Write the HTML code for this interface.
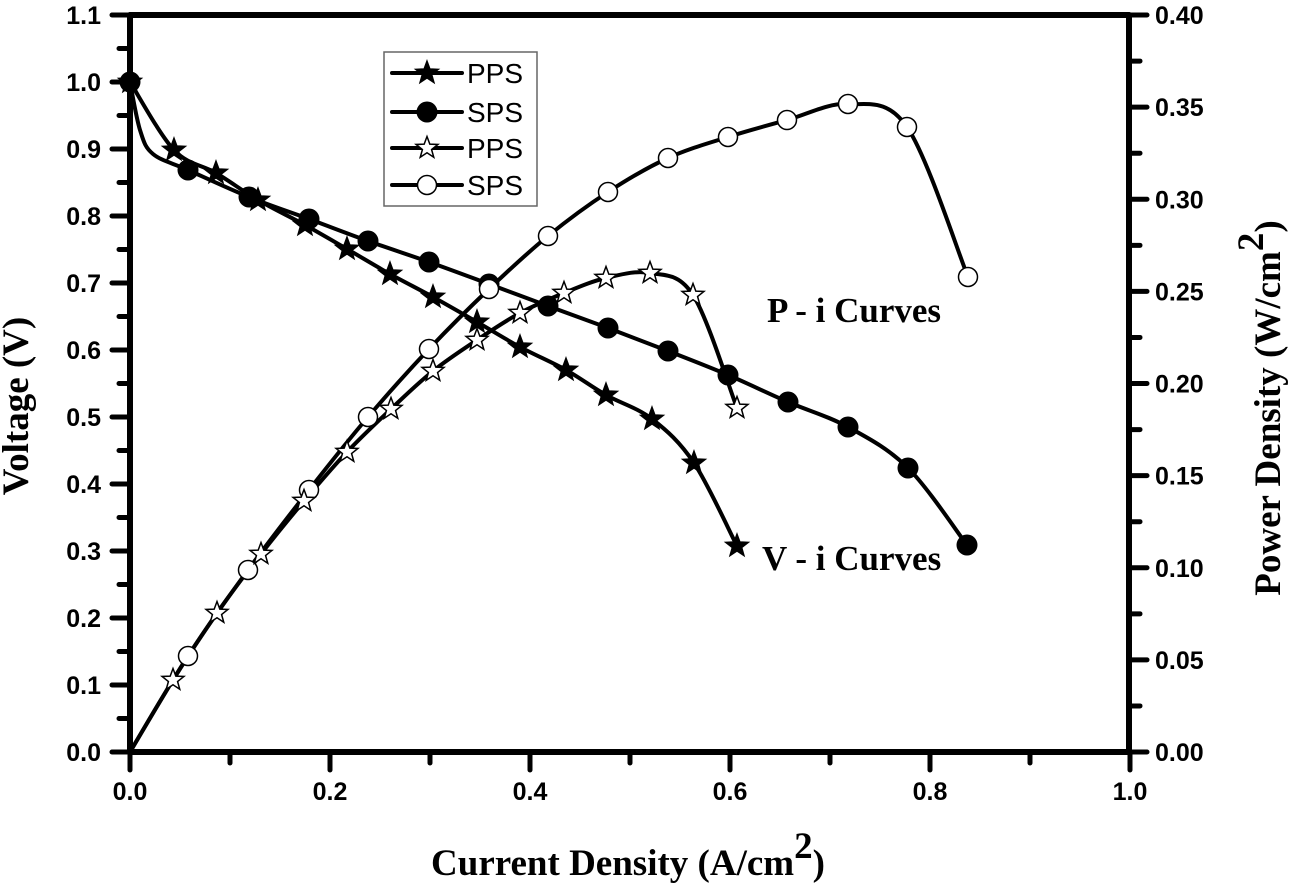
<!DOCTYPE html>
<html>
<head>
<meta charset="utf-8">
<style>
  html,body{margin:0;padding:0;background:#fff;}
  svg{display:block;}
  .tick{font-family:"Liberation Sans",Arial,sans-serif;font-weight:bold;font-size:25px;fill:#000;}
  .title{font-family:"Liberation Serif","Times New Roman",serif;font-weight:bold;font-size:37px;fill:#000;}
  .lab{font-family:"Liberation Serif","Times New Roman",serif;font-weight:bold;font-size:35px;fill:#000;}
  .leg{font-family:"Liberation Sans",Arial,sans-serif;font-size:28px;fill:#000;}
</style>
</head>
<body>
<svg id="chart" xmlns="http://www.w3.org/2000/svg" width="1291" height="884" viewBox="0 0 1291 884">
  <rect x="0" y="0" width="1291" height="884" fill="#fff"/>
  <g id="axes"></g>
  <g id="series"></g>
  <!-- Legend -->
  <rect x="384" y="52" width="153" height="154" fill="#fff" stroke="#666" stroke-width="1.5"/>
  <g id="legend"></g>
  <text class="leg" x="467" y="83">PPS</text>
  <text class="leg" x="467" y="122">SPS</text>
  <text class="leg" x="467" y="158">PPS</text>
  <text class="leg" x="467" y="195">SPS</text>
  <!-- Labels -->
  <text class="lab" x="767" y="322">P - i Curves</text>
  <text class="lab" x="762" y="570">V - i Curves</text>
  <!-- Axis titles -->
  <text class="title" x="628" y="875" text-anchor="middle">Current Density (A/cm<tspan dy="-17">2</tspan><tspan dy="17">)</tspan></text>
  <text class="title" transform="translate(28,406) rotate(-90)" text-anchor="middle">Voltage (V)</text>
  <text class="title" transform="translate(1280,408) rotate(-90)" text-anchor="middle">Power Density (W/cm<tspan dy="-17">2</tspan><tspan dy="17">)</tspan></text>
</svg>
<script>
(function(){
  var NS="http://www.w3.org/2000/svg";
  function el(tag, attrs, parent){
    var e=document.createElementNS(NS,tag);
    for(var k in attrs) e.setAttribute(k, attrs[k]);
    if(parent) parent.appendChild(e);
    return e;
  }
  var axes=document.getElementById("axes");
  var L=130,R=1129,T=15,B=752;
  function line(x1,y1,x2,y2,w,p){var a={x1:x1,y1:y1,x2:x2,y2:y2,stroke:"#000","stroke-width":w||5,"stroke-linecap":"round"};el("line",a,p||axes);}
  line(L,T,R,T,6); line(L,B,R,B,6); line(L,T,L,B,6); line(R,T,R,B,6);
  // left ticks
  for(var i=0;i<=22;i++){
    var v=i*0.05, y=B-670*v;
    if(i%2===0){
      line(112,y,L,y,5);
      var t=el("text",{x:101,y:y+9,"text-anchor":"end","class":"tick"},axes);
      t.textContent=(i/20).toFixed(1);
    } else line(119,y,L,y,5);
  }
  // right ticks
  for(var i=0;i<=16;i++){
    var p=i*0.025, y=B-1842.5*p;
    if(i%2===0){
      line(R,y,1147,y,5);
      var t=el("text",{x:1155,y:y+9,"class":"tick"},axes);
      t.textContent=(i*0.025).toFixed(2);
    } else line(R,y,1140,y,5);
  }
  // bottom ticks
  for(var i=0;i<=10;i++){
    var x=L+100*i;
    if(i%2===0){
      line(x,B,x,770,5);
      var t=el("text",{x:x,y:800,"text-anchor":"middle","class":"tick"},axes);
      t.textContent=(i/10).toFixed(1);
    } else line(x,B,x,763,5);
  }

  function cr(pts){
    var d="M"+pts[0][0]+","+pts[0][1];
    for(var i=0;i<pts.length-1;i++){
      var p0=pts[i-1]||pts[i], p1=pts[i], p2=pts[i+1], p3=pts[i+2]||pts[i+1];
      var c1x=p1[0]+(p2[0]-p0[0])/6, c1y=p1[1]+(p2[1]-p0[1])/6;
      var c2x=p2[0]-(p3[0]-p1[0])/6, c2y=p2[1]-(p3[1]-p1[1])/6;
      d+=" C"+c1x.toFixed(2)+","+c1y.toFixed(2)+" "+c2x.toFixed(2)+","+c2y.toFixed(2)+" "+p2[0]+","+p2[1];
    }
    return d;
  }
  function star(cx,cy,Ro,ri){
    var d="";
    for(var k=0;k<10;k++){
      var r=(k%2===0)?Ro:ri;
      var a=-Math.PI/2+k*Math.PI/5;
      d+=(k===0?"M":"L")+(cx+r*Math.cos(a)).toFixed(2)+","+(cy+r*Math.sin(a)).toFixed(2);
    }
    return d+"Z";
  }
  function marker(type,x,y,p){
    if(type==="fstar") el("path",{d:star(x,y,12.5,5.2),fill:"#000",stroke:"#000","stroke-width":1},p);
    else if(type==="ostar") el("path",{d:star(x,y,11.5,4.8),fill:"#fff",stroke:"#000","stroke-width":1.5,"stroke-linejoin":"miter"},p);
    else if(type==="fcirc") el("circle",{cx:x,cy:y,r:10.5,fill:"#000"},p);
    else if(type==="ocirc") el("circle",{cx:x,cy:y,r:9.5,fill:"#fff",stroke:"#000","stroke-width":1.5},p);
  }
  var S=document.getElementById("series");

  var vPPS=[[130,82],[174,150],[216,173],[258,200],[305,225],[347,249],[390,274],[433,297],[477,322],[520,347],[566,370],[606,395],[652,419],[694,463],[737,546]];
  var vSPS=[[130,82],[188,170],[249,197],[309,219],[368,241],[429,262],[489,284],[548,306],[608,328],[668,351],[728,375],[788,402],[848,427],[908,468],[967,545]];
  var vSPScurve=[[130,82],[140,130],[153,154],[188,170]].concat(vSPS.slice(2));
  var pSPS=[[130,752],[188,656],[248,570],[309,490],[368,417],[429,349],[489,289],[548,236],[608,192],[668,158],[728,137],[787,120],[848,104],[907,127],[968,277]];
  var pPPS=[[130,752],[173,680],[217,613],[261,554],[304,501],[347,452],[391,409],[433,371],[477,340],[520,313],[564,293],[606,278],[650,273],[693,295],[737,408]];

  var la={fill:"none",stroke:"#000","stroke-width":4,"stroke-linejoin":"round","stroke-linecap":"round"};
  function path(d,p){var a={d:d};for(var k in la)a[k]=la[k];el("path",a,p||S);}

  path(cr(vPPS)); path(cr(vSPScurve)); path(cr(pSPS)); path(cr(pPPS));
  vPPS.forEach(function(q){marker("fstar",q[0],q[1],S);});
  vSPS.forEach(function(q){marker("fcirc",q[0],q[1],S);});
  pSPS.slice(1).forEach(function(q){marker("ocirc",q[0],q[1],S);});
  pPPS.slice(1).forEach(function(q){marker("ostar",q[0],q[1],S);});

  // legend
  var LG=document.getElementById("legend");
  var rows=[[73,"fstar"],[112,"fcirc"],[148,"ostar"],[185,"ocirc"]];
  rows.forEach(function(r){
    line(392,r[0],462,r[0],4,LG);
    marker(r[1],427,r[0],LG);
  });
})();
</script>
</body>
</html>
